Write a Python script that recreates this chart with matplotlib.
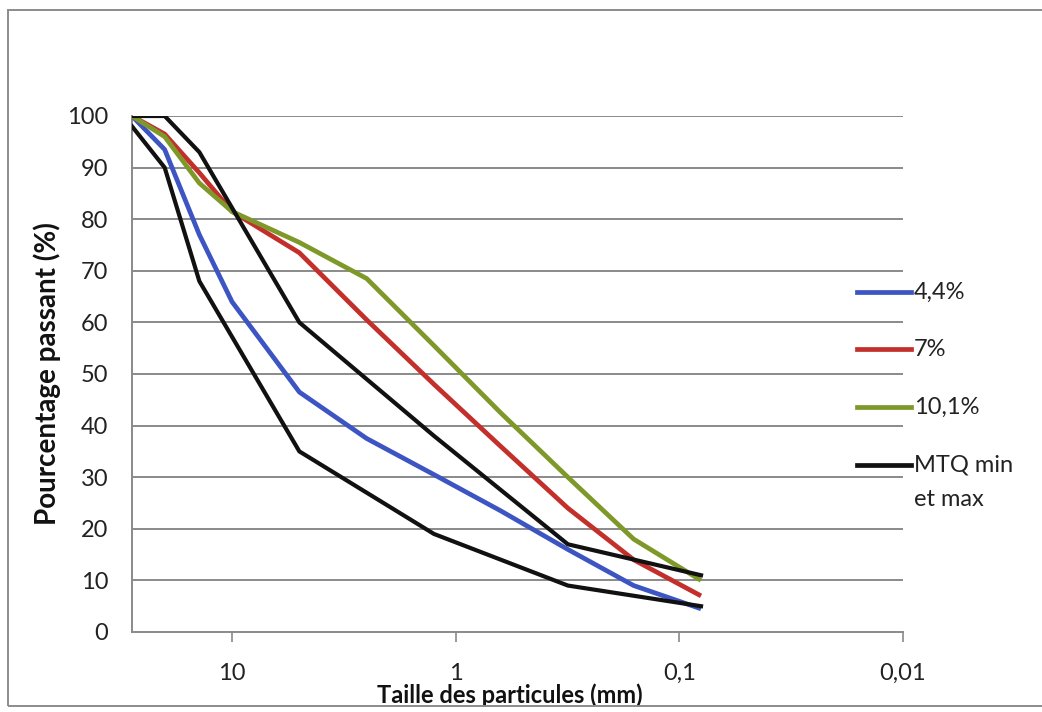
#!/usr/bin/env python3
"""Courbes granulométriques (% passant vs taille des particules) avec fuseau MTQ min/max."""
import matplotlib
matplotlib.use("Agg")
import matplotlib.pyplot as plt
from matplotlib.lines import Line2D
from matplotlib.patches import Rectangle

W, H = 1042, 712

# tamis (mm) et pourcentages passants
sieves = [28, 20, 14, 10, 5, 2.5, 1.25, 0.63, 0.315, 0.16, 0.08]
p_44 = [100, 93.5, 77, 64, 46.5, 37.5, 30.5, 23.5, 16, 9, 4.5]
p_70 = [100, 96.5, 89, 81.5, 73.5, 60.5, 48, 36, 24, 14, 7]
p_101 = [100, 96, 87, 81.5, 75.5, 68.5, 55.5, 42.5, 30, 18, 10]

mtq_sieves = [28, 20, 14, 5, 1.25, 0.315, 0.08]
mtq_min = [98, 90, 68, 35, 19, 9, 5]
mtq_max = [100, 100, 93, 60, 38, 17, 11]

series = [("4,4%", p_44, "#3d55c2"), ("7%", p_70, "#c3302b"), ("10,1%", p_101, "#7e982a")]
mtq_label = "MTQ min\net max"
xticks = [10, 1, 0.1, 0.01]
xtick_labels = ["10", "1", "0,1", "0,01"]
yticks = list(range(0, 101, 10))

plt.rcParams["font.family"] = ["Lato", "DejaVu Sans"]
fig = plt.figure(figsize=(W / 100, H / 100), dpi=100)
ax = fig.add_axes([132 / W, 1 - 632 / H, 771 / W, 516 / H])

grid_c = "#8a8a8a"
txt_c = "#222222"
for yv in yticks[1:]:
    ax.axhline(yv, color=grid_c, lw=1.4, zorder=1)

for lab, vals, col in series:
    ax.plot(sieves, vals, color=col, lw=3.4, solid_capstyle="butt", zorder=3)
ax.plot(mtq_sieves, mtq_min, color="#111111", lw=3.0, zorder=4)
ax.plot(mtq_sieves, mtq_max, color="#111111", lw=3.0, zorder=4)

ax.set_xscale("log")
ax.set_xlim(28, 0.01)
ax.set_ylim(0, 100)
ax.set_xticks(xticks)
ax.set_xticklabels(xtick_labels)
ax.minorticks_off()
ax.set_yticks(yticks)
ax.tick_params(axis="x", length=7, width=1.2, color=grid_c, pad=15, labelsize=17, labelcolor=txt_c)
ax.tick_params(axis="y", length=0, pad=17, labelsize=17, labelcolor=txt_c)
for s in ("top", "right"):
    ax.spines[s].set_visible(False)
for s in ("left", "bottom"):
    ax.spines[s].set_color(grid_c)
    ax.spines[s].set_linewidth(1.4)

ax.set_xlabel("Taille des particules (mm)", fontsize=17, fontweight="bold", color="#111111")
ax.xaxis.label.set_va("center")
ax.xaxis.set_label_coords((510 - 132) / 771, (632 - 695) / 516)
ax.set_ylabel("Pourcentage passant (%)", fontsize=20, fontweight="bold", color="#111111")
ax.yaxis.set_label_coords((47 - 132) / 771, 0.5)
ax.yaxis.label.set_va("center")

# légende faite à la main (trait aligné sur la première ligne du libellé)
leg_rows = [(lab, col) for lab, _, col in series] + [(mtq_label, "#111111")]
leg_y = [292, 349, 407, 465]
for (lab, col), yp in zip(leg_rows, leg_y):
    fig.add_artist(Line2D([857 / W, 911 / W], [1 - yp / H] * 2, color=col, lw=3.4))
    for i, part in enumerate(lab.split("\n")):
        fig.text(914 / W, 1 - (yp + 35 * i) / H, part, fontsize=17, color=txt_c, va="center", ha="left")

fig.add_artist(Rectangle((8 / W, 1 - 706 / H), 1.2, 696 / H, transform=fig.transFigure,
                         fill=False, ec="#8c8c8c", lw=1.4))
fig.savefig("out.png", dpi=100)
